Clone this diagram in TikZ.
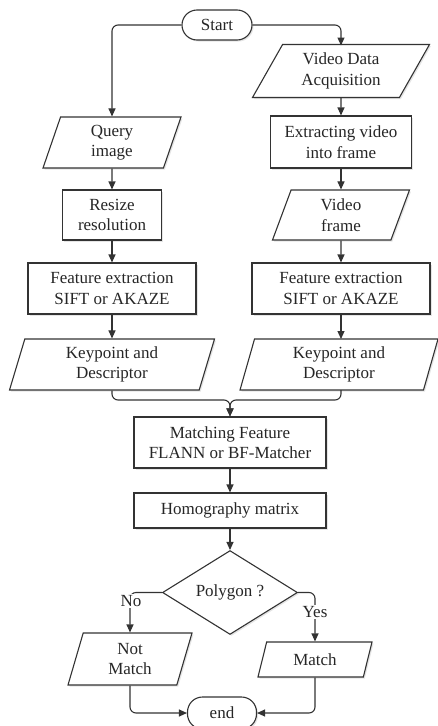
\documentclass[tikz,border=0pt]{standalone}
\usepackage{fontspec}
\setmainfont{Liberation Serif}
\usetikzlibrary{shapes.geometric,arrows.meta,shadows}
\begin{document}
\begin{tikzpicture}[x=1pt,y=-1pt,
  every node/.style={font=\fontsize{17}{20.5}\selectfont, align=center, inner sep=2pt, text=black!85},
  base/.style={draw=black!80, line width=1.1pt, fill=white,
    drop shadow={shadow xshift=1.5pt, shadow yshift=-1.5pt, opacity=0.1, fill=black}},
  proc/.style={base, rectangle},
  term/.style={base, rectangle, rounded corners=15pt},
  io/.style 2 args={base, trapezium, trapezium stretches body,
    trapezium left angle=#1, trapezium right angle=#2},
  decision/.style={base, diamond},
  arr/.style={draw=black!80, line width=1.1pt, rounded corners=6pt,
    -{Triangle[length=8pt,width=7pt]}},
  lbl/.style={fill=white, inner sep=1pt}
]
\useasboundingbox (0,0) rectangle (438,726);

\node[term, minimum width=70pt, minimum height=30pt] (start) at (217,25) {Start};

\node[io={53}{127}, minimum width=177pt, minimum height=53pt] (vda) at (341,71) {Video Data\\Acquisition};
\node[proc, minimum width=141pt, minimum height=52pt] (evf) at (341,142) {Extracting video\\into frame};
\node[io={63}{117}, minimum width=137pt, minimum height=50pt] (vf) at (341,215) {Video\\frame};
\node[proc, minimum width=178pt, minimum height=51pt] (fe2) at (341,288.5) {Feature extraction\\SIFT or AKAZE};
\node[io={70}{110}, minimum width=198pt, minimum height=51pt] (kd2) at (339,364.5) {Keypoint and\\Descriptor};

\node[io={66}{114}, minimum width=138pt, minimum height=51pt] (qi) at (112,142.5) {Query\\image};
\node[proc, minimum width=99pt, minimum height=50pt] (rr) at (112,215) {Resize\\resolution};
\node[proc, minimum width=168pt, minimum height=51pt] (fe1) at (112,288.5) {Feature extraction\\SIFT or AKAZE};
\node[io={69}{111}, minimum width=205pt, minimum height=51pt] (kd1) at (112,364.5) {Keypoint and\\Descriptor};

\node[proc, minimum width=192pt, minimum height=51pt] (mf) at (230,442.5) {Matching Feature\\FLANN or BF-Matcher};
\node[proc, minimum width=192pt, minimum height=35pt] (hm) at (230,510.5) {Homography matrix};
\node[decision, minimum width=135pt, minimum height=77pt, inner sep=0pt] (dia) at (230,592.5) {Polygon ?};

\node[io={67}{113}, minimum width=124pt, minimum height=52pt] (nm) at (130,659) {Not\\Match};
\node[io={61.5}{118.5}, minimum width=114pt, minimum height=35pt] (ma) at (315,659.5) {Match};
\node[term, minimum width=69pt, minimum height=32pt] (end) at (222,713) {end};

\coordinate (merge) at (230,400);

\draw[arr] (start.west) -| (qi.north);
\draw[arr] (start.east) -| (341,45.5);
\draw[arr] (vda) -- (evf);
\draw[arr] (evf) -- (vf);
\draw[arr] (vf) -- (fe2);
\draw[arr] (fe2.south) -- (341,339);
\draw[arr] (qi) -- (rr);
\draw[arr] (rr) -- (fe1);
\draw[arr] (fe1) -- (kd1);
\draw[arr] (kd1.south) |- (merge) -- (mf.north);
\draw[arr] (341,390) |- (merge) -- (mf.north);
\draw[arr] (mf) -- (hm);
\draw[arr] (hm) -- (dia);
\draw[arr] (dia.west) -| (nm.north);
\draw[arr] (dia.east) -| (ma.north);
\draw[arr] (nm.south) |- (end.west);
\draw[arr] (ma.south) |- (end.east);

\node[lbl] (no) at (131,601) {No};
\node[lbl] (yes) at (315,612) {Yes};
\end{tikzpicture}
\end{document}
